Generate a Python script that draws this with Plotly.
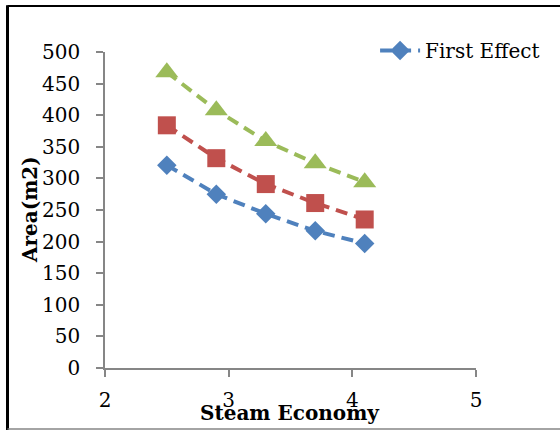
import plotly.graph_objects as go

# Steam economy vs. heat-transfer area for each effect
steam_economy = [2.5, 2.9, 3.3, 3.7, 4.1]
first_effect = [321, 275, 244, 217, 197]
second_effect = [384, 332, 291, 261, 235]
third_effect = [468, 408, 359, 324, 294]

x_ticks = [2, 3, 4, 5]
y_ticks = [0, 50, 100, 150, 200, 250, 300, 350, 400, 450, 500]

FONT = "DejaVu Serif"
AXIS_GREY = "#868686"
DASH = "12px,7px"

fig = go.Figure()

fig.add_trace(go.Scatter(
    x=steam_economy, y=first_effect, name="First Effect", mode="lines+markers",
    line=dict(color="#4F81BD", width=4, dash=DASH),
    marker=dict(symbol="diamond", size=15, color="#4F81BD"),
))
fig.add_trace(go.Scatter(
    x=steam_economy, y=second_effect, name="Second Effect", mode="lines+markers",
    line=dict(color="#C0504D", width=4, dash=DASH),
    marker=dict(symbol="square", size=18, color="#C0504D"),
    showlegend=False,
))
fig.add_trace(go.Scatter(
    x=steam_economy, y=third_effect, name="Third Effect", mode="lines+markers",
    line=dict(color="#9BBB59", width=4, dash=DASH),
    marker=dict(symbol="triangle-up", size=20, color="#9BBB59"),
    showlegend=False,
))

fig.update_layout(
    width=560, height=430,
    margin=dict(l=105, r=84, t=52, b=62),
    paper_bgcolor="white", plot_bgcolor="white",
    font=dict(family=FONT, size=20, color="black"),
    showlegend=True,
    legend=dict(
        x=0.728, y=1.005, xanchor="left", yanchor="middle",
        bgcolor="rgba(0,0,0,0)", font=dict(family=FONT, size=20),
        itemwidth=40,
    ),
    xaxis=dict(
        range=[2, 5], tickvals=x_ticks, showgrid=False, zeroline=False,
        showline=True, linecolor=AXIS_GREY, linewidth=1.5,
        ticks="outside", ticklen=7, tickcolor=AXIS_GREY, tickwidth=1.5,
        ticklabelstandoff=6,
    ),
    yaxis=dict(
        range=[0, 500], tickvals=y_ticks, showgrid=False, zeroline=False,
        showline=True, linecolor=AXIS_GREY, linewidth=1.5,
        ticks="outside", ticklen=7, tickcolor=AXIS_GREY, tickwidth=1.5,
        ticklabelstandoff=12,
    ),
    annotations=[
        dict(text="<b>Steam Economy</b>", xref="paper", yref="paper",
             x=0.4987, y=-0.1424, showarrow=False, xanchor="center", yanchor="middle",
             font=dict(family=FONT, size=20)),
        dict(text="<b>Area(m2)</b>", xref="paper", yref="paper",
             x=-0.2022, y=0.503, showarrow=False, xanchor="center", yanchor="middle",
             textangle=-90, font=dict(family=FONT, size=20)),
    ],
    shapes=[
        # chart frame
        dict(type="line", xref="paper", yref="paper", x0=-0.2628, x1=-0.2628,
             y0=-0.196, y1=1.148, line=dict(color="black", width=3)),
        dict(type="line", xref="paper", yref="paper", x0=-0.2628, x1=1.25,
             y0=1.1456, y1=1.1456, line=dict(color="black", width=2)),
        dict(type="line", xref="paper", yref="paper", x0=-0.2628, x1=1.25,
             y0=-0.193, y1=-0.193, line=dict(color=AXIS_GREY, width=1.5)),
    ],
)

fig.write_html("out.html")
